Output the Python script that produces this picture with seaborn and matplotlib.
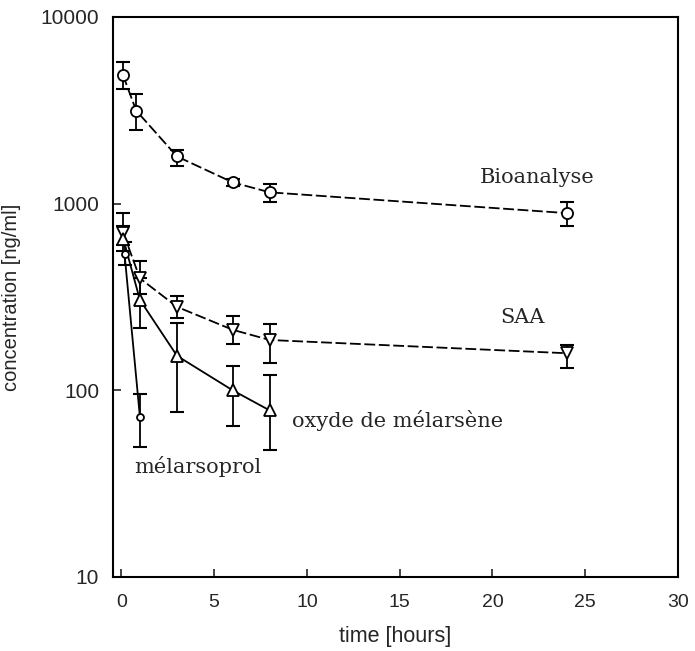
import numpy as np
import pandas as pd
import matplotlib
matplotlib.use("Agg")
import matplotlib.pyplot as plt
import seaborn as sns

# ---- data ----
bio_t = [0.08, 0.8, 3, 6, 8, 24]
bio_c = [4900, 3150, 1790, 1300, 1150, 890]
bio_lo = [4110, 2480, 1590, 1250, 1020, 760]
bio_hi = [5740, 3870, 1940, 1350, 1276, 1025]

saa_t = [0.1, 1, 3, 6, 8, 24]
saa_c = [700, 398, 280, 211, 186, 158]
saa_lo = [600, 330, 245, 177, 140, 131]
saa_hi = [890, 490, 321, 250, 227, 175]

oxy_t = [0.1, 1, 3, 6, 8]
oxy_c = [650, 305, 153, 100, 78]
oxy_lo = [560, 216, 77, 64, 48]
oxy_hi = [760, 400, 229, 135, 121]

mel_t = [0.17, 1]
mel_c = [540, 72]
mel_lo = [470, 49.5]
mel_hi = [620, 96]

x_ticks = [0, 5, 10, 15, 20, 25, 30]
y_ticks = [10, 100, 1000, 10000]
y_ticklabels = ["10", "100", "1000", "10000"]

sns.set_style("ticks")
plt.rcParams["font.family"] = ["Liberation Sans", "DejaVu Sans"]

fig = plt.figure(figsize=(6.95, 6.51), dpi=100)
ax = fig.add_axes([0.1626, 0.1137, 0.8129, 0.8602])

series = [
    ("Bioanalyse", bio_t, bio_c, bio_lo, bio_hi, "o", (6, 2), 8),
    ("SAA", saa_t, saa_c, saa_lo, saa_hi, "v", (6, 2), 8),
    ("oxyde", oxy_t, oxy_c, oxy_lo, oxy_hi, "^", "", 8),
    ("mel", mel_t, mel_c, mel_lo, mel_hi, "o", "", 5),
]

for name, t, c, lo, hi, mk, ds, ms in series:
    df = pd.DataFrame({"t": t, "c": c})
    sns.lineplot(data=df, x="t", y="c", ax=ax, color="black", linewidth=1.3,
                 marker=mk, markersize=ms, markerfacecolor="white",
                 markeredgecolor="black", markeredgewidth=1.3,
                 dashes=False, zorder=3)
    if ds:
        ax.lines[-1].set_dashes(ds)
    c_arr = np.array(c, dtype=float)
    yerr = np.vstack([c_arr - np.array(lo), np.array(hi) - c_arr])
    ax.errorbar(t, c, yerr=yerr, fmt="none", ecolor="black", elinewidth=1.3,
                capsize=5, capthick=1.5, zorder=2)

ax.set_yscale("log")
ax.set_xlim(-0.45, 30.0)
ax.set_ylim(10, 10000)
ax.set_xticks(x_ticks)
ax.set_xticklabels([str(v) for v in x_ticks], fontsize=14)
ax.set_yticks(y_ticks)
ax.set_yticklabels(y_ticklabels, fontsize=15)
ax.yaxis.set_minor_locator(matplotlib.ticker.NullLocator())
ax.tick_params(axis="both", direction="in", length=6, width=1.2)
ax.tick_params(axis="x", pad=12)
ax.tick_params(axis="y", pad=10)
for sp in ax.spines.values():
    sp.set_linewidth(1.5)
    sp.set_color("black")

ax.set_xlabel("time [hours]", fontsize=15.5)
ax.set_ylabel("concentration [ng/ml]", fontsize=14.5)
ax.xaxis.set_label_coords(0.5, -0.088)
ax.yaxis.set_label_coords(-0.162, 0.5)

serif = ["DejaVu Serif"]
ax.text(22.4, 1375, "Bioanalyse", fontsize=15, family=serif, ha="center", va="center")
ax.text(21.6, 247, "SAA", fontsize=15, family=serif, ha="center", va="center")
ax.text(9.2, 69, "oxyde de mélarsène", fontsize=15, family=serif, ha="left", va="center")
ax.text(0.7, 39, "mélarsoprol", fontsize=15, family=serif, ha="left", va="center")

fig.savefig("out.png", dpi=100)
